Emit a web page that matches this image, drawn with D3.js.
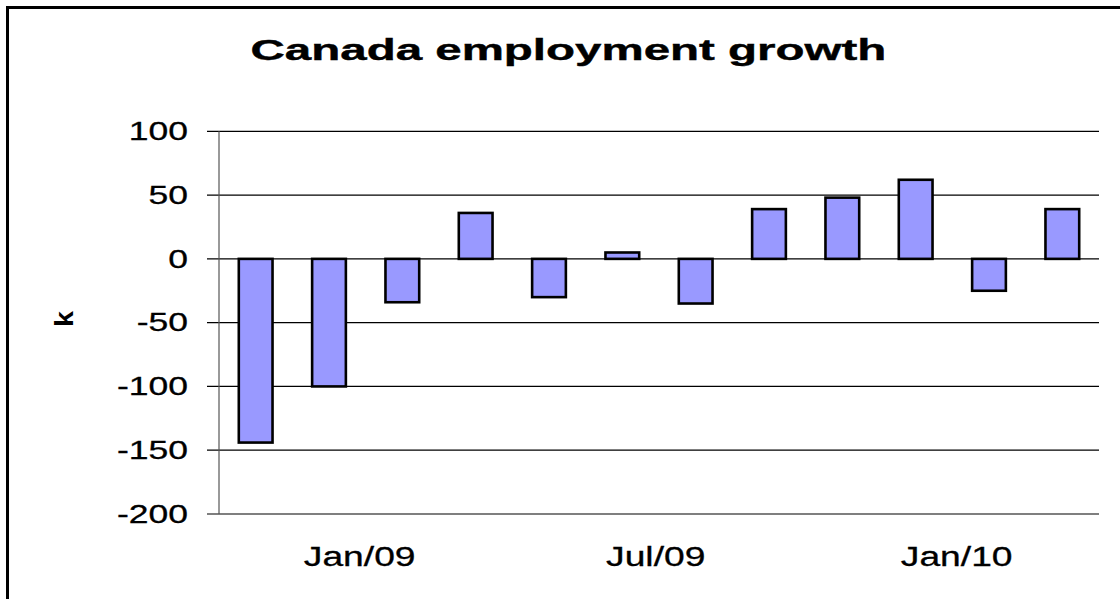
<!DOCTYPE html>
<html>
<head>
<meta charset="UTF-8">
<title>Canada employment growth</title>
<style>
    html, body { margin: 0; padding: 0; background: #fff; overflow: hidden; }
    svg { display: block; }
    text { font-family: "Liberation Sans", Arial, sans-serif; fill: #000; }
    .grid line { stroke: #000; stroke-width: 1.2px; }
    .bar { fill: #9999ff; stroke: #000; stroke-width: 2.6px; }
</style>
</head>
<body>
<div id="chart"></div>
<script src="https://cdnjs.cloudflare.com/ajax/libs/d3/7.8.5/d3.min.js"></script>
<script>
// values (thousands of jobs)
var periods = ["p1", "p2", "p3", "p4", "p5", "p6", "p7", "p8", "p9", "p10", "p11", "p12"];
var growth = [-144, -100, -34, 36, -30, 5, -35, 39, 48, 62, -25, 39];
var yTicks = [100, 50, 0, -50, -100, -150, -200];
var xTickDates = ["2009-01-01", "2009-07-01", "2010-01-01"];
var xTickLabels = ["Jan/09", "Jul/09", "Jan/10"];

var width = 1120, height = 599;
var plot = {left: 219, right: 1099, top: 131.3, bottom: 514};

var svg = d3.select("#chart").append("svg")
    .attr("width", width)
    .attr("height", height);

// chart area border: only the top and left edges are inside the picture
svg.append("path")
    .attr("d", "M7.5," + height + "V7.5H" + width)
    .attr("fill", "none")
    .attr("stroke", "#000")
    .attr("stroke-width", 3);

var x = d3.scaleBand()
    .domain(periods)
    .range([plot.left, plot.right])
    .paddingInner(0.54)
    .paddingOuter(0.27);

// date axis used only for the labels
var xTime = d3.scaleTime()
    .domain([new Date(2008, 9, 7), new Date(2010, 2, 29)])
    .range([plot.left, plot.right]);

var y = d3.scaleLinear()
    .domain([-200, 100])
    .range([plot.bottom, plot.top]);

// the text in the picture is drawn wide: put it in a g that stretches it
function wideText(px, py, sx, rot) {
    return svg.append("g")
        .attr("transform", "translate(" + px + "," + py + ")" +
            (rot ? " rotate(" + rot + ")" : "") + " scale(" + sx + ",1)")
        .append("text");
}

// gridlines + tick marks
svg.append("g")
    .attr("class", "grid")
    .selectAll("line")
    .data(yTicks).enter()
    .append("line")
    .attr("x1", plot.left - 12)
    .attr("x2", plot.right)
    .attr("y1", function (d) { return y(d); })
    .attr("y2", function (d) { return y(d); });

// y axis line
svg.append("line")
    .attr("x1", plot.left).attr("x2", plot.left)
    .attr("y1", plot.top).attr("y2", plot.bottom)
    .attr("stroke", "#555")
    .attr("stroke-width", 1.2);

// bars
svg.selectAll(".bar")
    .data(growth).enter()
    .append("rect")
    .attr("class", "bar")
    .attr("x", function (d, i) { return x(periods[i]); })
    .attr("width", x.bandwidth())
    .attr("y", function (d) { return y(Math.max(0, d)); })
    .attr("height", function (d) { return Math.abs(y(d) - y(0)); });

// y tick labels
yTicks.forEach(function (d) {
    wideText(188, y(d) + 8.8, 1.42)
        .attr("text-anchor", "end")
        .style("font-size", "25px")
        .style("stroke", "#000")
        .style("stroke-width", 0.3)
        .text(d);
});

// x tick labels
var parse = d3.timeParse("%Y-%m-%d");
xTickDates.forEach(function (d, i) {
    wideText(xTime(parse(d)), 565.7, 1.33)
        .attr("text-anchor", "middle")
        .style("font-size", "28px")
        .style("stroke", "#000")
        .style("stroke-width", 0.3)
        .text(xTickLabels[i]);
});

// title
wideText(568.4, 59.5, 1.61)
    .attr("text-anchor", "middle")
    .style("font-size", "29.5px")
    .style("font-weight", "bold")
    .style("stroke", "#000")
    .style("stroke-width", 0.4)
    .text("Canada employment growth");

// y axis title
wideText(73, 319, 1.1, -90)
    .attr("text-anchor", "middle")
    .style("font-size", "26px")
    .style("font-weight", "bold")
    .text("k");
</script>
</body>
</html>
